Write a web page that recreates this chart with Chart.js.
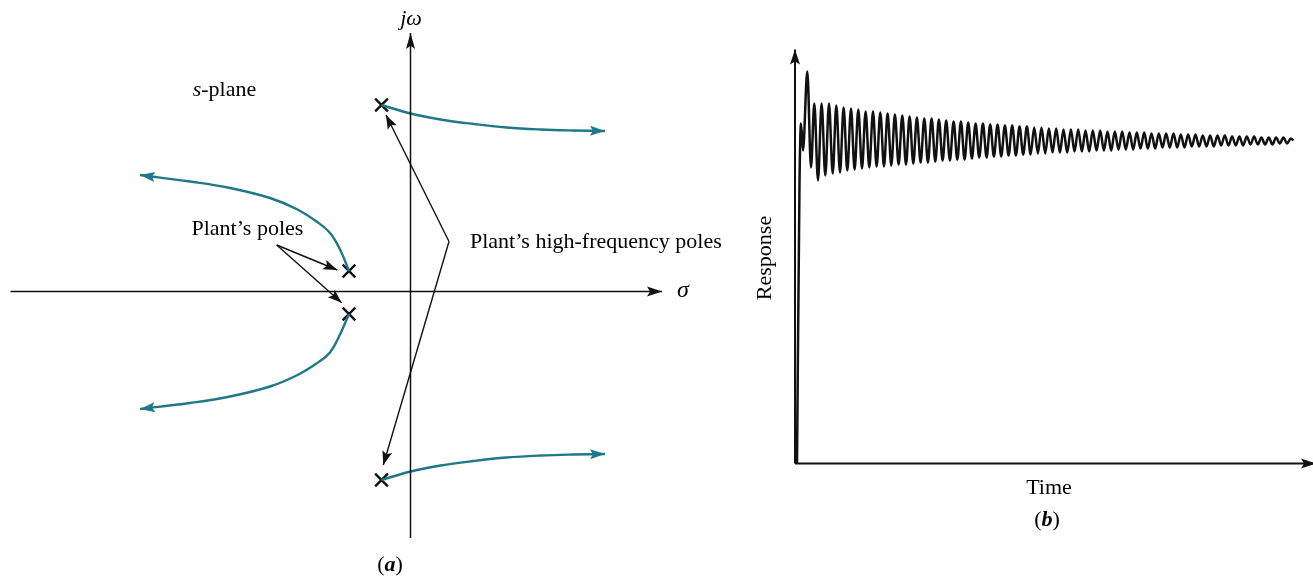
<!DOCTYPE html>
<html>
<head>
<meta charset="utf-8">
<script src="https://cdn.jsdelivr.net/npm/chart.js@4/dist/chart.umd.min.js"></script>
<style>
  html, body { margin: 0; padding: 0; background: #fff; }
  #wrap { position: relative; width: 1313px; height: 576px; overflow: hidden; }
  #locus { position: absolute; left: 0; top: 0; }
  #response { position: absolute; left: 740px; top: 0; }
</style>
</head>
<body>
<div id="wrap">
  <canvas id="locus" width="740" height="576"></canvas>
  <canvas id="response" width="573" height="576"></canvas>
</div>
<script>
/* ---------- (a) root locus in the s-plane: sigma (real) / omega (imag) ---------- */

// high-frequency branches (start at the poles, bend off to the right)
const hfSigma        = [-0.29, 0, 0.30, 0.63, 0.96, 1.30, 1.625, 1.945];
const hfUpperOmega   = [1.865, 1.78, 1.72, 1.675, 1.64, 1.62, 1.61, 1.605];
const hfLowerOmega   = [-1.885, -1.80, -1.74, -1.695, -1.66, -1.64, -1.63, -1.625];

// plant-pole branches (start near the axis, sweep out to the left)
const plantSigma      = [-0.615, -0.705, -0.805, -0.94, -1.14, -1.405, -1.805, -2.205, -2.705];
const plantUpperOmega = [0.205, 0.42, 0.585, 0.70, 0.825, 0.935, 1.035, 1.10, 1.165];
const plantLowerOmega = [-0.225, -0.43, -0.61, -0.72, -0.84, -0.95, -1.05, -1.115, -1.175];

// open-loop poles (X marks)
const poleSigma = [-0.29, -0.29, -0.615, -0.615];
const poleOmega = [1.865, -1.885, 0.205, -0.225];

// callout arrows: [sigma, omega] of the tail, then the tips
const plantNoteTail = [-1.338, 0.465];
const plantNoteTips = [[-0.732, 0.215], [-0.688, -0.112]];
const hfNoteTail    = [0.385, 0.50];
const hfNoteTips    = [[-0.245, 1.765], [-0.272, -1.735]];

// axis extents
const sigmaAxis = [-4.00, 2.515];
const omegaAxis = [-2.465, 2.585];

/* ---------- (b) closed-loop step response ---------- */

const respTime = [
  2, 4.5, 6, 8, 12.3, 16,
  19.3, 23.0, 26.6, 30.3, 34.0, 37.7, 41.3, 45.0, 48.6, 52.3,
  56.0, 59.6, 63.3, 67.0, 70.6, 74.3, 78.0, 81.6, 85.3, 89.0,
  92.6, 96.3, 99.9, 103.6, 107.3, 111.0, 114.6, 118.3, 121.9, 125.6,
  129.3, 132.9, 136.6, 140.3, 143.9, 147.6, 151.2, 154.9, 158.6, 162.3,
  165.9, 169.6, 173.2, 176.9, 180.6, 184.2, 187.9, 191.6, 195.2, 198.9,
  202.6, 206.2, 209.9, 213.6, 217.2, 220.9, 224.5, 228.2, 231.9, 235.6,
  239.2, 242.9, 246.5, 250.2, 253.9, 257.5, 261.2, 264.9, 268.5, 272.2,
  275.9, 279.5, 283.2, 286.9, 290.5, 294.2, 297.8, 301.5, 305.2, 308.9,
  312.5, 316.2, 319.8, 323.5, 327.2, 330.8, 334.5, 338.2, 341.8, 345.5,
  349.2, 352.8, 356.5, 360.2, 363.8, 367.5, 371.1, 374.8, 378.5, 382.2,
  385.8, 389.5, 393.1, 396.8, 400.5, 404.1, 407.8, 411.5, 415.1, 418.8,
  422.5, 426.1, 429.8, 433.5, 437.1, 440.8, 444.4, 448.1, 451.8, 455.5,
  459.1, 462.8, 466.4, 470.1, 473.8, 477.4, 481.1, 484.8, 488.4, 492.1,
  495.8, 498.5
];
const respValue = [
  0, 280, 340, 313, 392, 296,
  360, 283, 360, 288, 360, 290, 358, 291, 356, 293,
  355, 294, 354, 295, 352, 296, 352, 297, 351, 297,
  350, 298, 349, 299, 348, 299, 347, 300, 346, 301,
  345, 301, 345, 302, 344, 303, 343, 303, 342, 304,
  342, 304, 341, 305, 340, 306, 340, 306, 339, 307,
  339, 307, 338, 308, 338, 308, 337, 309, 337, 309,
  336, 310, 336, 310, 335, 311, 335, 311, 334, 311,
  334, 312, 334, 312, 333, 312, 333, 313, 333, 313,
  332, 313, 332, 314, 332, 314, 331, 314, 331, 315,
  331, 315, 330, 315, 330, 316, 330, 316, 330, 316,
  329, 316, 329, 317, 329, 317, 328, 317, 328, 317,
  328, 318, 328, 318, 327, 318, 327, 318, 327, 319,
  327, 319, 326, 319, 326, 319, 326, 320, 326, 320,
  325, 323
];

// axis extents (time, response)
const timeAxis = [0, 521];
const responseAxis = [0, 414];

/* ---------- shared helpers ---------- */

const SERIF = '"Liberation Serif", "Times New Roman", serif';
const TEAL = '#1f7888';
const INK = '#111';

const pairs = (xs, ys) => xs.map((x, i) => ({ x, y: ys[i] }));

function line(data, color, width, tension, arrow) {
  return {
    data, borderColor: color, backgroundColor: color, borderWidth: width,
    showLine: true, pointRadius: 0, tension, arrow
  };
}

function drawHead(ctx, x0, y0, x1, y1, len, half, color) {
  const a = Math.atan2(y1 - y0, x1 - x0);
  ctx.save();
  ctx.translate(x1, y1);
  ctx.rotate(a);
  ctx.beginPath();
  ctx.moveTo(0, 0);
  ctx.lineTo(-len, -half);
  ctx.lineTo(-len * 0.8, 0);
  ctx.lineTo(-len, half);
  ctx.closePath();
  ctx.fillStyle = color;
  ctx.fill();
  ctx.restore();
}

// arrowhead at the last point of any dataset that carries an `arrow` spec
const arrowHeads = {
  id: 'arrowHeads',
  afterDatasetsDraw(chart) {
    const ctx = chart.ctx;
    chart.data.datasets.forEach((ds, i) => {
      if (!ds.arrow) return;
      const pts = chart.getDatasetMeta(i).data;
      const a = pts[pts.length - 2], b = pts[pts.length - 1];
      drawHead(ctx, a.x, a.y, b.x, b.y, ds.arrow[0], ds.arrow[1], ds.borderColor);
    });
  }
};

// text made of runs with different fonts, centred or left-aligned on (x, y)
function rich(ctx, runs, x, y, align) {
  ctx.save();
  ctx.textBaseline = 'middle';
  ctx.textAlign = 'left';
  ctx.fillStyle = '#000';
  let w = 0;
  runs.forEach(r => { ctx.font = r[1]; w += ctx.measureText(r[0]).width; });
  let cx = align === 'center' ? x - w / 2 : x;
  runs.forEach(r => {
    ctx.font = r[1];
    ctx.fillText(r[0], cx, y);
    cx += ctx.measureText(r[0]).width;
  });
  ctx.restore();
}

const baseOptions = (xr, yr) => ({
  responsive: false,
  animation: false,
  events: [],
  layout: { padding: 0, autoPadding: false },
  plugins: { legend: { display: false }, tooltip: { enabled: false } },
  scales: {
    x: { type: 'linear', min: xr[0], max: xr[1], display: false },
    y: { type: 'linear', min: yr[0], max: yr[1], display: false }
  }
});

/* ---------- (a) ---------- */

const locusText = {
  id: 'locusText',
  afterDraw(chart) {
    const { ctx, scales: { x, y } } = chart;
    const px = s => x.getPixelForValue(s), py = w => y.getPixelForValue(w);
    const reg = `22px ${SERIF}`, ital = `italic 22px ${SERIF}`;
    rich(ctx, [['j\u03c9', `italic 22px ${SERIF}`]], px(0.005), py(2.725), 'center');
    rich(ctx, [['\u03c3', `italic 24px ${SERIF}`]], px(2.725), py(0.01), 'center');
    rich(ctx, [['s', ital], ['-plane', reg]], px(-2.178), py(2.01), 'left');
    rich(ctx, [['Plant\u2019s poles', reg]], px(-2.19), py(0.625), 'left');
    rich(ctx, [['Plant\u2019s high-frequency poles', reg]], px(0.595), py(0.495), 'left');
    rich(ctx, [['(', reg], ['a', `italic bold 22px ${SERIF}`], [')', reg]], px(-0.205), py(-2.735), 'center');
  }
};

const pt = p => ({ x: p[0], y: p[1] });

new Chart(document.getElementById('locus'), {
  type: 'scatter',
  data: {
    datasets: [
      line([{ x: sigmaAxis[0], y: 0 }, { x: sigmaAxis[1], y: 0 }], INK, 1.5, 0, [15, 5]),
      line([{ x: 0, y: omegaAxis[0] }, { x: 0, y: omegaAxis[1] }], INK, 1.5, 0, [16, 4.5]),
      line(pairs(hfSigma, hfUpperOmega), TEAL, 2.4, 0.4, [15, 5]),
      line(pairs(hfSigma, hfLowerOmega), TEAL, 2.4, 0.4, [15, 5]),
      line(pairs(plantSigma, plantUpperOmega), TEAL, 2.4, 0.4, [15, 5]),
      line(pairs(plantSigma, plantLowerOmega), TEAL, 2.4, 0.4, [15, 5]),
      ...plantNoteTips.map(t => line([pt(plantNoteTail), pt(t)], INK, 1.4, 0, [14, 5])),
      ...hfNoteTips.map(t => line([pt(hfNoteTail), pt(t)], INK, 1.4, 0, [14, 5])),
      {
        data: pairs(poleSigma, poleOmega),
        pointStyle: 'crossRot', pointRadius: 9, borderWidth: 2.4,
        borderColor: INK, backgroundColor: INK, showLine: false
      }
    ]
  },
  options: baseOptions([-4.105, 3.295], [-2.845, 2.915]),
  plugins: [arrowHeads, locusText]
});

/* ---------- (b) ---------- */

const responseText = {
  id: 'responseText',
  afterDraw(chart) {
    const { ctx, scales: { x, y } } = chart;
    const reg = `22px ${SERIF}`;
    rich(ctx, [['Time', reg]], x.getPixelForValue(254), y.getPixelForValue(-24.5), 'center');
    rich(ctx, [['(', reg], ['b', `italic bold 22px ${SERIF}`], [')', reg]],
      x.getPixelForValue(252), y.getPixelForValue(-56.5), 'center');
    ctx.save();
    ctx.translate(x.getPixelForValue(-30), y.getPixelForValue(205.5));
    ctx.rotate(-Math.PI / 2);
    rich(ctx, [['Response', reg]], 0, 0, 'center');
    ctx.restore();
  }
};

new Chart(document.getElementById('response'), {
  type: 'scatter',
  data: {
    datasets: [
      line([{ x: 0, y: responseAxis[0] }, { x: 0, y: responseAxis[1] }], INK, 2, 0, [15, 5]),
      line([{ x: timeAxis[0], y: 0 }, { x: timeAxis[1], y: 0 }], INK, 2, 0, [15, 5]),
      {
        data: pairs(respTime, respValue),
        borderColor: INK, borderWidth: 2.5, showLine: true, pointRadius: 0,
        cubicInterpolationMode: 'monotone'
      }
    ]
  },
  options: baseOptions([-55, 518], [-112.5, 463.5]),
  plugins: [arrowHeads, responseText]
});
</script>
</body>
</html>
